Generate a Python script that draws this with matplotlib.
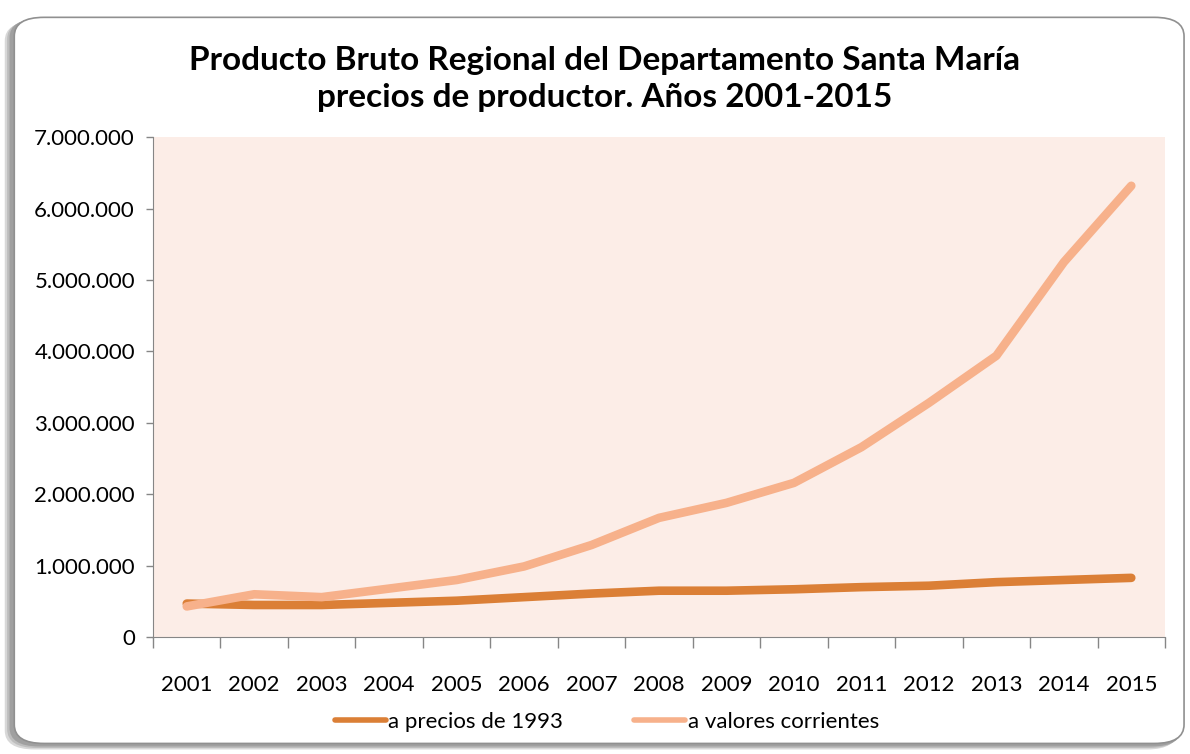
import numpy as np
import matplotlib
matplotlib.use('Agg')
import matplotlib.pyplot as plt
from matplotlib.patches import FancyBboxPatch
from matplotlib.ticker import FuncFormatter

#datos
years = ['2001', '2002', '2003', '2004', '2005', '2006', '2007', '2008',
         '2009', '2010', '2011', '2012', '2013', '2014', '2015']
precios_1993 = [470000, 450000, 450000, 480000, 510000, 560000, 610000, 650000,
                650000, 670000, 700000, 720000, 770000, 800000, 830000]
valores_corrientes = [430000, 600000, 560000, 680000, 800000, 990000, 1290000, 1670000,
                      1880000, 2160000, 2660000, 3280000, 3940000, 5250000, 6320000]
yticks = [0, 1000000, 2000000, 3000000, 4000000, 5000000, 6000000, 7000000]

plt.rcParams['font.family'] = ['Lato', 'DejaVu Sans']

fig = plt.figure(figsize=(11.9, 7.54), dpi=100)

#marco redondeado con sombra
for off, col in [(0.006, '#d8d8d8'), (0.004, '#bdbdbd'), (0.002, '#a0a0a0')]:
    fig.patches.append(FancyBboxPatch((0.010 - off, 0.012 - off), 0.985, 0.965,
                                      boxstyle='round,pad=0,rounding_size=0.025',
                                      transform=fig.transFigure, facecolor=col,
                                      edgecolor='none', zorder=0))
fig.patches.append(FancyBboxPatch((0.012, 0.014), 0.983, 0.963,
                                  boxstyle='round,pad=0,rounding_size=0.025',
                                  transform=fig.transFigure, facecolor='white',
                                  edgecolor='#909090', linewidth=1.2, zorder=1))

ax = fig.add_axes([0.1286, 0.155, 0.8504, 0.663])
ax.set_zorder(2)
ax.set_facecolor('#fcede7')

x = np.arange(len(years))
ax.plot(x, precios_1993, color='#db7f36', linewidth=6.2, solid_capstyle='round',
        label='a precios de 1993')
ax.plot(x, valores_corrientes, color='#f7b18b', linewidth=6.2, solid_capstyle='round',
        label='a valores corrientes')

ax.set_xlim(-0.5, len(years) - 0.5)
ax.set_ylim(0, 7000000)
ax.set_yticks(yticks)
ax.yaxis.set_major_formatter(FuncFormatter(lambda v, p: '{:,.0f}'.format(v).replace(',', '.')))
ax.set_xticks(np.arange(-0.5, len(years), 1.0))
ax.set_xticklabels([])
ax.set_xticks(x, minor=True)
ax.set_xticklabels(years, minor=True)
ax.tick_params(axis='x', which='major', length=8, color='#868686', width=1)
ax.tick_params(axis='x', which='minor', length=0, pad=27, labelsize=16)
ax.tick_params(axis='y', length=5, color='#868686', width=1, labelsize=16, pad=8)

for s in ['top', 'right']:
    ax.spines[s].set_visible(False)
for s in ['left', 'bottom']:
    ax.spines[s].set_color('#868686')

fig.text(0.508, 0.895, 'Producto Bruto Regional del Departamento Santa María\nprecios de productor. Años 2001-2015',
         ha='center', va='center', fontsize=24, fontweight='bold', linespacing=1.35, zorder=3)

fig.legend(loc='center', bbox_to_anchor=(0.51, 0.043), ncol=2, frameon=False,
           fontsize=16, handlelength=2.3, handletextpad=0.1, columnspacing=3.2)
for lh in fig.legends[0].get_lines():
    lh.set_linewidth(4)

plt.savefig('out.png', dpi=100)
